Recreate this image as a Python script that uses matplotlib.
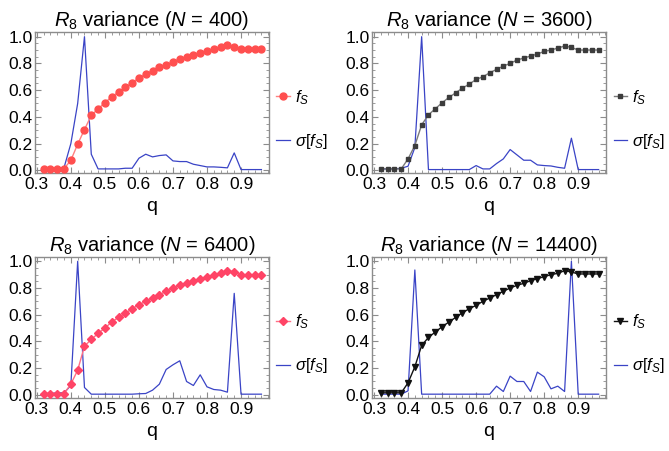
import numpy as np
import matplotlib
matplotlib.use("Agg")
import matplotlib.pyplot as plt
from matplotlib.ticker import MultipleLocator, FormatStrFormatter

plt.rcParams['font.family'] = ['Liberation Sans', 'DejaVu Sans']
plt.rcParams['mathtext.fontset'] = 'custom'
plt.rcParams['mathtext.rm'] = 'Liberation Sans'
plt.rcParams['mathtext.it'] = 'Liberation Sans:italic'

# q grid
q = [0.32, 0.34, 0.36, 0.38, 0.40, 0.42, 0.44, 0.46, 0.48, 0.50, 0.52,
     0.54, 0.56, 0.58, 0.60, 0.62, 0.64, 0.66, 0.68, 0.70, 0.72, 0.74,
     0.76, 0.78, 0.80, 0.82, 0.84, 0.86, 0.88, 0.90, 0.92, 0.94, 0.96]

# N = 400
fs_400 = [0.01, 0.01, 0.01, 0.012, 0.075, 0.195, 0.305, 0.41, 0.46, 0.505, 0.55,
          0.585, 0.62, 0.655, 0.69, 0.72, 0.745, 0.77, 0.79, 0.81, 0.835, 0.85,
          0.86, 0.88, 0.895, 0.905, 0.92, 0.935, 0.92, 0.905, 0.905, 0.905, 0.905]
sig_400 = [0.01, 0.01, 0.01, 0.02, 0.2, 0.5, 1.0, 0.12, 0.01, 0.01, 0.01,
           0.01, 0.015, 0.015, 0.09, 0.12, 0.10, 0.11, 0.115, 0.07, 0.065, 0.065,
           0.045, 0.035, 0.025, 0.025, 0.022, 0.018, 0.13, 0.005, 0.005, 0.005, 0.005]

# N = 3600
fs_3600 = [0.01, 0.01, 0.01, 0.01, 0.085, 0.185, 0.34, 0.415, 0.46, 0.505, 0.545,
           0.58, 0.615, 0.645, 0.68, 0.70, 0.73, 0.755, 0.78, 0.80, 0.825, 0.84,
           0.855, 0.87, 0.89, 0.90, 0.915, 0.93, 0.92, 0.90, 0.90, 0.90, 0.90]
sig_3600 = [0.01, 0.01, 0.01, 0.015, 0.03, 0.17, 1.0, 0.005, 0.005, 0.005, 0.005,
            0.005, 0.005, 0.005, 0.035, 0.01, 0.01, 0.05, 0.085, 0.155, 0.115, 0.075,
            0.075, 0.04, 0.035, 0.032, 0.022, 0.015, 0.24, 0.005, 0.005, 0.005, 0.005]

# N = 6400
fs_6400 = [0.01, 0.01, 0.01, 0.01, 0.08, 0.185, 0.365, 0.415, 0.46, 0.50, 0.545,
           0.58, 0.61, 0.645, 0.675, 0.70, 0.725, 0.75, 0.775, 0.80, 0.82, 0.835,
           0.855, 0.865, 0.88, 0.895, 0.91, 0.93, 0.92, 0.90, 0.90, 0.90, 0.90]
sig_6400 = [0.01, 0.01, 0.015, 0.015, 0.07, 1.0, 0.055, 0.005, 0.005, 0.005, 0.005,
            0.005, 0.005, 0.005, 0.008, 0.01, 0.035, 0.08, 0.19, 0.225, 0.255, 0.10,
            0.07, 0.15, 0.06, 0.04, 0.035, 0.02, 0.76, 0.005, 0.005, 0.005, 0.005]

# N = 14400
fs_14400 = [0.015, 0.015, 0.015, 0.015, 0.09, 0.21, 0.37, 0.43, 0.47, 0.51, 0.545,
            0.58, 0.615, 0.645, 0.67, 0.70, 0.725, 0.75, 0.775, 0.80, 0.82, 0.835,
            0.855, 0.87, 0.885, 0.90, 0.91, 0.93, 0.92, 0.905, 0.905, 0.905, 0.905]
sig_14400 = [0.005, 0.005, 0.005, 0.005, 0.03, 0.935, 0.005, 0.005, 0.005, 0.005, 0.005,
             0.005, 0.005, 0.005, 0.005, 0.005, 0.005, 0.065, 0.025, 0.14, 0.10, 0.10,
             0.025, 0.17, 0.135, 0.045, 0.065, 0.025, 1.0, 0.005, 0.005, 0.005, 0.005]

panels = [
    ("400", fs_400, sig_400, "o", "#ff4f4f", "#ff8080", 5.0),
    ("3600", fs_3600, sig_3600, "s", "#3c3c3c", "#7a7a7a", 3.3),
    ("6400", fs_6400, sig_6400, "D", "#ff4466", "#ff6f85", 3.6),
    ("14400", fs_14400, sig_14400, "v", "#111111", "#111111", 4.2),
]

blue = "#3a44c6"
frame = "#8c8c8c"

fig = plt.figure(figsize=(6.69, 4.51), dpi=100)
lefts = [0.052, 0.556]
bottoms = [0.616, 0.118]
w, h = 0.350, 0.313

for i, (n, fs, sig, mk, mc, lc, ms) in enumerate(panels):
    ax = fig.add_axes([lefts[i % 2], bottoms[i // 2], w, h])
    ax.plot(q, fs, color=lc, lw=1.0, marker=mk, ms=ms, mfc=mc, mec=mc,
            label=r"$f_S$", zorder=3)
    ax.plot(q, sig, color=blue, lw=0.9, label=r"$\sigma[f_S]$", zorder=2)
    ax.set_xlim(0.294, 0.982)
    ax.set_ylim(-0.022, 1.035)
    ax.xaxis.set_major_locator(MultipleLocator(0.1))
    ax.xaxis.set_minor_locator(MultipleLocator(0.02))
    ax.yaxis.set_major_locator(MultipleLocator(0.2))
    ax.yaxis.set_minor_locator(MultipleLocator(0.05))
    ax.tick_params(which='both', direction='in', top=True, right=True,
                   color=frame, labelsize=12.5)
    ax.tick_params(axis='x', pad=3)
    ax.tick_params(axis='y', pad=1.5)
    ax.tick_params(which='major', length=4)
    ax.tick_params(which='minor', length=2)
    ax.xaxis.set_major_formatter(FormatStrFormatter('%.1f'))
    ax.yaxis.set_major_formatter(FormatStrFormatter('%.1f'))
    for s in ax.spines.values():
        s.set_color(frame)
        s.set_linewidth(1.0)
    ax.set_title(r"$R_8$ variance ($N$ = %s)" % n, fontsize=14.5, pad=4)
    ax.set_xlabel("q", fontsize=14, labelpad=4)
    ax.legend(loc='center left', bbox_to_anchor=(1.0, 0.38), frameon=False,
              fontsize=12, handlelength=0.8, handletextpad=0.3,
              labelspacing=1.5, borderaxespad=0.05)

fig.savefig("out.png", dpi=100)
